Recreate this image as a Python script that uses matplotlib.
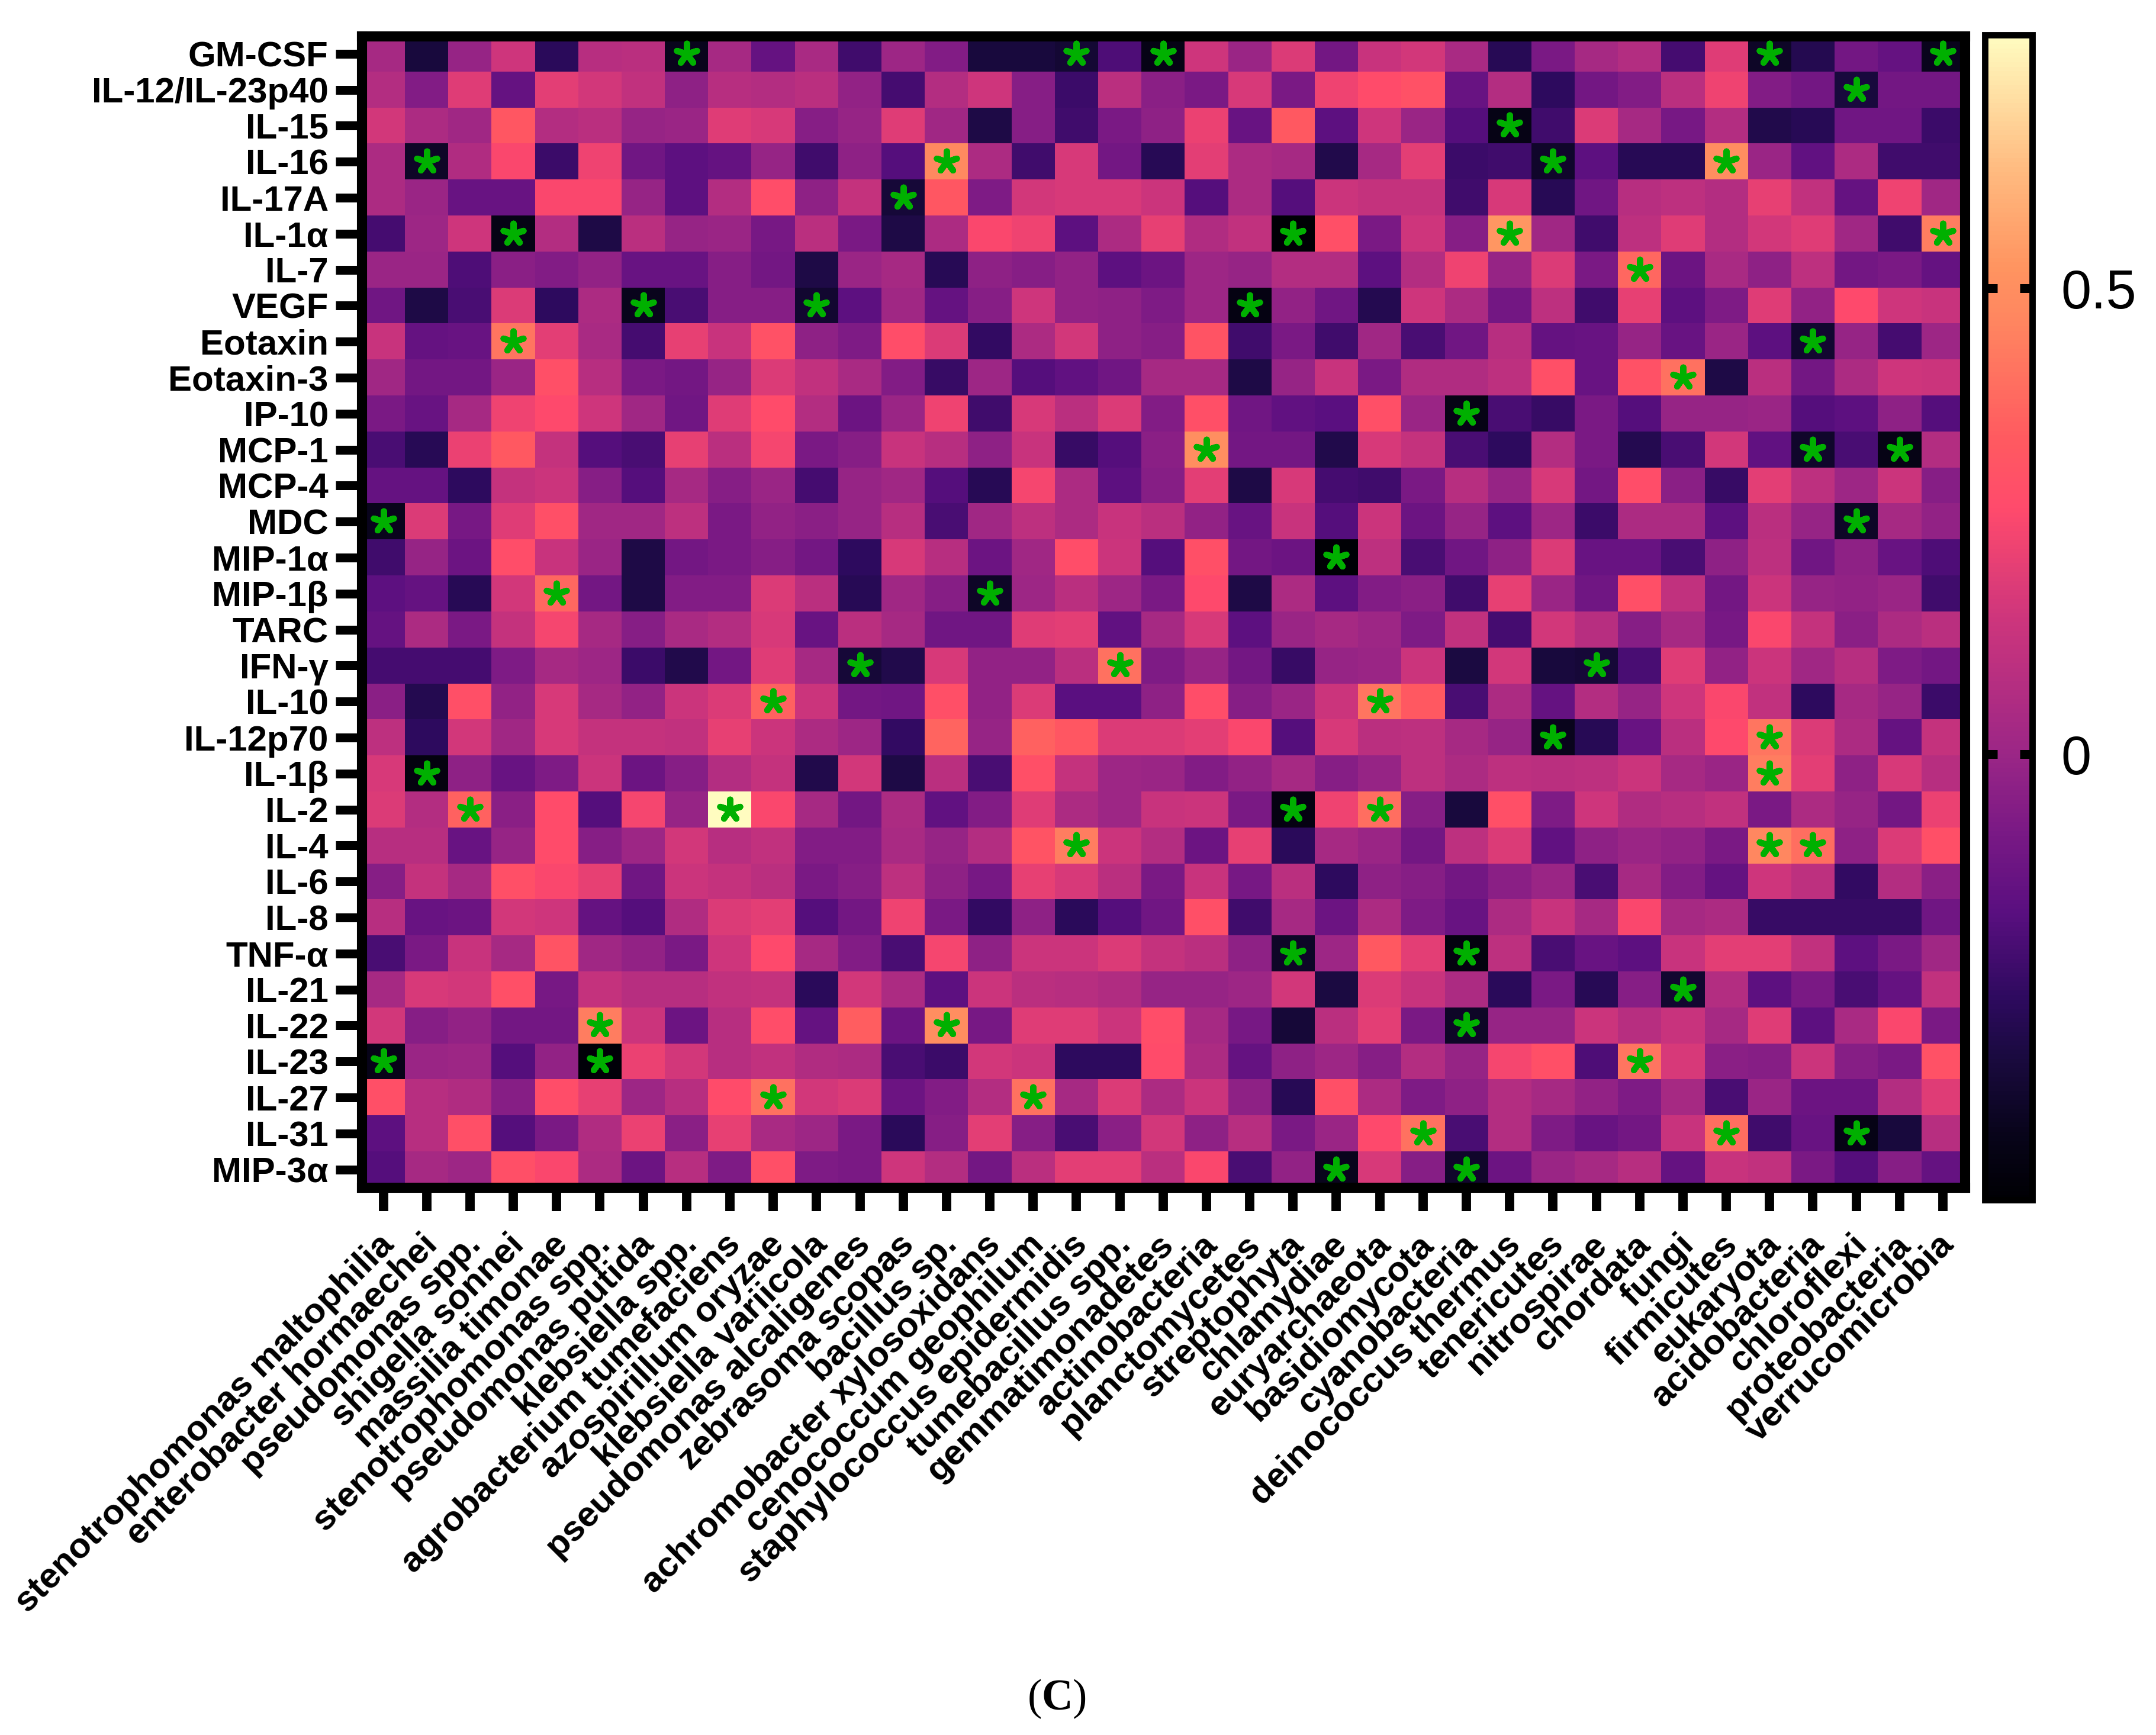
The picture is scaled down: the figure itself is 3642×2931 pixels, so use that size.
import numpy as np
import matplotlib
matplotlib.use("Agg")
import matplotlib.pyplot as plt
from matplotlib.colors import LinearSegmentedColormap
from matplotlib.transforms import ScaledTranslation

plt.rcParams['font.family'] = ['Liberation Sans', 'DejaVu Sans']
plt.rcParams['mathtext.fontset'] = 'custom'
plt.rcParams['mathtext.bf'] = 'Liberation Serif:bold'
plt.rcParams['mathtext.rm'] = 'Liberation Serif'

cytokines = ["GM-CSF", "IL-12/IL-23p40", "IL-15", "IL-16", "IL-17A", "IL-1α", "IL-7", "VEGF",
             "Eotaxin", "Eotaxin-3", "IP-10", "MCP-1", "MCP-4", "MDC", "MIP-1α", "MIP-1β",
             "TARC", "IFN-γ", "IL-10", "IL-12p70", "IL-1β", "IL-2", "IL-4", "IL-6",
             "IL-8", "TNF-α", "IL-21", "IL-22", "IL-23", "IL-27", "IL-31", "MIP-3α"]

taxa = ["stenotrophomonas maltophilia", "enterobacter hormaechei", "pseudomonas spp.", "shigella sonnei",
        "massilia timonae", "stenotrophomonas spp.", "pseudomonas putida", "klebsiella spp.",
        "agrobacterium tumefaciens", "azospirillum oryzae", "klebsiella variicola", "pseudomonas alcaligenes",
        "zebrasoma scopas", "bacillus sp.", "achromobacter xylosoxidans", "cenococcum geophilum",
        "staphylococcus epidermidis", "tumebacillus spp.", "gemmatimonadetes", "actinobacteria",
        "planctomycetes", "streptophyta", "chlamydiae", "euryarchaeota", "basidiomycota", "cyanobacteria",
        "deinococcus thermus", "tenericutes", "nitrospirae", "chordata", "fungi", "firmicutes",
        "eukaryota", "acidobacteria", "chloroflexi", "proteobacteria", "verrucomicrobia"]

# correlation values, one list per cytokine
gm_csf = [.03, -.33, -.01, .15, -.27, .08, .09, -.40, .03, -.14, .04, -.22, .01, -.06, -.33, -.33, -.35, -.19, -.42, .15, .0, .18, -.10, .13, .16, .04, -.28, -.08, .03, .07, -.21, .19, -.38, -.29, -.10, -.14, -.40]
il12_23 = [.07, -.06, .19, -.14, .20, .16, .11, -.03, .08, .07, .09, -.02, -.21, .07, .15, -.05, -.23, .09, -.04, -.08, .17, -.08, .23, .27, .30, -.13, .07, -.26, -.10, -.06, .09, .23, -.06, -.10, -.33, -.10, -.10]
il15 = [.16, .05, .02, .32, .07, .09, -.01, .0, .19, .17, -.05, -.01, .19, .02, -.31, -.05, -.22, -.08, -.03, .22, -.13, .33, -.16, .15, .0, -.18, -.42, -.22, .18, .03, -.09, .07, -.30, -.28, -.11, -.11, -.23]
il16 = [.05, -.38, .06, .25, -.23, .23, -.11, -.16, -.14, -.01, -.22, -.03, -.18, .48, .05, -.22, .17, -.10, -.28, .20, .05, .03, -.30, .03, .20, -.23, -.22, -.37, -.16, -.28, -.28, .50, .0, -.15, .05, -.22, -.22]
il17a = [.05, .0, -.13, -.13, .25, .25, -.01, -.16, .07, .28, -.03, .12, -.34, .32, -.07, .16, .17, .17, .14, -.18, .05, -.18, .14, .12, .12, -.22, .17, -.28, -.11, .08, .10, .07, .21, .11, -.14, .23, .02]
il1a = [-.21, .01, .15, -.42, .07, -.31, .09, -.01, .0, -.09, .09, -.08, -.31, .05, .25, .23, -.16, .05, .21, .06, .11, -.47, .29, -.08, .15, -.05, .53, .02, -.22, .10, .19, .07, .16, .19, .02, -.22, .44]
il7 = [.0, .0, -.19, -.04, -.06, -.02, -.13, -.13, -.05, -.10, -.31, .0, .03, -.28, -.03, -.05, -.02, -.16, -.12, .01, -.01, .07, .07, -.16, .07, .23, -.01, .18, -.08, .38, -.12, .04, -.03, .10, -.10, -.08, -.14]
vegf = [-.11, -.31, -.20, .18, -.26, .05, -.40, -.20, -.05, -.05, -.36, -.16, .02, -.14, -.05, .15, -.02, -.03, -.07, .01, -.43, -.02, -.11, -.29, .15, .05, -.10, .10, -.22, .21, -.16, -.07, .19, -.02, .26, .15, .13]
eotaxin = [.13, -.14, -.13, .42, .20, .04, -.21, .21, .13, .30, -.03, -.07, .28, .18, -.25, .05, .16, -.03, -.05, .31, -.22, -.08, -.22, .02, -.20, -.11, .08, -.14, -.13, -.01, -.13, .0, -.16, -.36, -.01, -.21, .01]
eotaxin3 = [.02, -.10, -.10, .0, .29, .08, -.08, -.10, -.01, .18, .11, .04, -.06, -.24, .01, -.18, -.15, -.11, .03, .03, -.31, -.01, .13, -.08, .06, .06, .10, .29, -.13, .30, .41, -.31, .09, -.10, .05, .15, .14]
ip10 = [-.08, -.13, .03, .23, .26, .15, .02, -.11, .19, .27, .07, -.12, .0, .23, -.22, .17, .09, .18, -.06, .29, -.11, -.15, -.17, .29, .0, -.42, -.20, -.24, -.08, -.18, -.01, -.01, .0, -.18, -.16, -.03, -.18]
mcp1 = [-.20, -.28, .22, .33, .12, -.18, -.20, .21, .09, .24, -.08, -.05, .13, .08, -.03, .13, -.24, -.18, -.04, .50, -.10, -.10, -.30, .17, .12, -.20, -.26, .07, -.08, -.29, -.20, .16, -.15, -.37, -.20, -.42, .07]
mcp4 = [-.14, -.14, -.26, .12, .14, -.05, -.18, .03, -.05, .0, -.21, -.01, .02, -.18, -.28, .24, .05, -.16, -.05, .20, -.31, .17, -.21, -.22, -.08, .08, -.01, .17, -.10, .28, -.04, -.24, .20, .10, .01, .14, -.05]
mdc = [-.40, .18, -.09, .19, .29, .02, .02, .10, -.08, -.02, -.04, -.01, .08, -.20, .02, .10, .05, .13, .09, -.02, -.13, .13, -.18, .14, -.12, -.01, -.16, .01, -.23, .05, .05, -.16, .09, -.01, -.38, .03, -.02]
mip1a = [-.22, -.01, -.12, .28, .13, .0, -.31, -.10, -.08, -.05, -.10, -.26, .17, .08, -.12, .02, .28, .14, -.18, .29, -.10, -.12, -.47, .10, -.20, -.11, -.03, .18, -.13, -.13, -.20, -.03, .10, -.11, -.03, -.13, -.19]
mip1b = [-.16, -.14, -.28, .16, .38, -.10, -.31, -.06, -.06, .18, .09, -.28, .02, -.05, -.38, .01, .09, .01, -.08, .26, -.31, .05, -.16, -.06, -.04, -.22, .21, .0, -.11, .29, .11, -.10, .14, -.01, -.02, .0, -.22]
tarc = [-.14, .05, -.08, .12, .24, .03, -.05, .04, .07, .17, -.13, .09, .03, -.11, -.11, .19, .20, -.15, .03, .17, -.16, .0, .03, .01, -.07, .11, -.21, .16, .08, -.05, .03, -.09, .25, .12, -.04, .05, .09]
ifn_g = [-.21, -.21, -.21, -.07, .03, .01, -.23, -.30, -.10, .19, .03, -.34, -.30, .17, -.02, -.02, .09, .41, -.07, -.01, -.10, -.24, -.01, .0, .14, -.32, .16, -.33, -.34, -.20, .19, -.02, .14, .02, .08, -.07, -.10]
il10 = [-.04, -.29, .29, -.02, .17, .03, -.02, .14, .18, .36, .14, -.10, -.11, .29, -.02, .18, -.17, -.17, -.03, .28, -.05, .0, .14, .42, .33, -.20, .05, -.14, .07, -.01, .15, .25, .11, -.26, .03, -.01, -.23]
il12p70 = [.10, -.26, .16, .02, .17, .12, .12, .11, .21, .14, .05, .01, -.25, .37, -.01, .36, .32, .18, .18, .20, .25, -.18, .17, .09, .10, .03, -.01, -.40, -.28, -.13, .09, .26, .42, .18, .05, -.14, .12]
il1b = [.17, -.44, -.03, -.13, -.07, .14, -.12, -.05, .07, .12, -.30, .16, -.31, .09, -.20, .29, .12, .01, .0, -.06, -.02, .03, -.05, -.01, .10, .05, .10, .09, .10, .14, .03, .0, .44, .20, -.03, .17, .08]
il2 = [.18, .07, .36, -.04, .27, -.18, .24, -.01, .77, .25, .03, -.10, .05, -.15, -.06, .19, .05, .01, .13, .14, -.08, -.43, .23, .40, -.05, -.33, .29, -.07, .15, .06, .08, .11, -.08, .05, -.01, -.10, .22]
il4 = [.08, .08, -.13, -.01, .27, -.05, .01, .16, .08, .11, -.06, -.06, .04, -.01, .07, .31, .44, .14, .07, -.12, .21, -.27, .03, .0, -.10, .10, .18, -.15, -.03, .0, -.02, -.08, .47, .40, -.03, .18, .29]
il6 = [-.05, .12, .03, .29, .25, .21, -.11, .14, .12, .09, -.08, -.05, .10, -.03, -.09, .21, .17, .09, -.08, .13, -.09, .09, -.26, -.03, -.05, -.10, -.04, .0, -.20, .03, -.06, -.14, .15, .10, -.25, .07, -.04]
il8 = [.08, -.13, -.12, .16, .15, -.14, -.18, .06, .18, .20, -.18, -.10, .23, -.08, -.25, -.03, -.27, -.18, -.11, .29, -.22, .03, -.12, .05, -.07, -.13, .05, .13, .03, .25, .03, .05, -.24, -.24, -.24, -.24, -.11]
tnf_a = [-.20, -.08, .13, .03, .31, .02, -.02, -.08, .15, .26, .03, -.06, -.20, .24, -.03, .14, .14, .18, .12, .09, -.03, -.38, .01, .33, .20, -.44, .10, -.20, -.13, -.16, .13, .20, .20, .11, -.16, -.08, .02]
il21 = [.03, .17, .16, .29, -.09, .12, .08, .08, .11, .12, -.27, .16, .05, -.16, .14, .09, .08, .06, -.01, -.01, .01, .16, -.32, .18, .13, .05, -.27, -.08, -.28, -.05, -.36, .07, -.16, -.08, -.20, -.14, .11]
il22 = [.16, -.05, -.02, -.10, -.10, .44, .14, -.12, .08, .28, -.14, .35, -.12, .50, -.09, .19, .19, .14, .28, .03, -.09, -.34, .09, .20, -.08, -.38, -.01, -.01, .14, .08, .13, .03, .19, -.16, .04, .25, -.08]
il23 = [-.41, .0, .01, -.18, -.02, -.46, .22, .16, .08, .11, .06, .05, -.20, -.23, .16, .14, -.26, -.26, .27, .05, -.14, -.03, .01, -.05, .07, -.01, .24, .29, -.19, .42, .17, -.04, -.05, .14, -.05, -.08, .30]
il27 = [.29, .08, .06, -.05, .28, .21, .01, .08, .27, .41, .16, .18, -.12, -.06, .07, .41, .03, .18, .05, .14, -.03, -.28, .29, .05, -.07, -.03, .07, .03, -.02, -.07, .03, -.20, .0, -.12, -.12, .07, .19]
il31 = [-.16, .08, .29, -.18, -.08, .06, .22, -.04, .21, .04, .01, -.08, -.27, -.05, .20, -.05, -.20, -.04, .16, -.03, .08, -.08, .0, .26, .41, -.20, .07, -.07, -.13, -.10, .13, .40, -.22, -.13, -.42, -.33, .08]
mip3a = [-.18, .03, .01, .29, .25, .05, -.12, .08, -.07, .29, -.07, -.08, .15, .07, -.10, .09, .20, .20, .09, .25, -.20, -.02, -.40, .17, -.05, -.37, -.12, .0, .03, .08, -.14, .13, .11, -.08, -.18, -.05, -.14]

# significant cells
star_rows = [0, 0, 0, 0, 0, 1, 2, 3, 3, 3, 3, 4, 5, 5, 5, 5, 6, 7, 7, 7, 8, 8, 9, 10, 11, 11, 11,
             13, 13, 14, 15, 15, 17, 17, 17, 18, 18, 19, 19, 20, 20, 21, 21, 21, 21, 22, 22, 22,
             25, 25, 26, 27, 27, 27, 28, 28, 28, 29, 29, 30, 30, 30, 31, 31]
star_cols = [7, 16, 18, 32, 36, 34, 26, 1, 13, 27, 31, 12, 3, 21, 26, 36, 29, 6, 10, 20, 3, 33, 30, 25, 19, 33, 35,
             0, 34, 22, 4, 14, 11, 17, 28, 9, 23, 27, 32, 1, 32, 2, 8, 21, 23, 16, 32, 33,
             21, 25, 30, 5, 13, 25, 0, 5, 29, 9, 15, 24, 31, 34, 22, 25]

cbar_ticks = [0, 0.5]
vmin = -0.478
vmax = 0.772

matrix = np.array([gm_csf, il12_23, il15, il16, il17a, il1a, il7, vegf, eotaxin, eotaxin3, ip10, mcp1, mcp4,
                   mdc, mip1a, mip1b, tarc, ifn_g, il10, il12p70, il1b, il2, il4, il6, il8, tnf_a, il21,
                   il22, il23, il27, il31, mip3a])

# magma-like map, stops taken from the colour bar of the figure
stops = [(-0.478, "#000004"), (-0.41, "#08041a"), (-0.325, "#1a0a40"), (-0.262, "#2e0a5f"),
         (-0.17, "#5a0f80"), (-0.078, "#7c1a85"), (0.0, "#9b2686"), (0.15, "#cf367c"),
         (0.264, "#ff4a6c"), (0.34, "#ff5a60"), (0.467, "#ff8660"), (0.524, "#ff9460"),
         (0.63, "#ffbb80"), (0.772, "#fffcc0")]
cmap = LinearSegmentedColormap.from_list("heat", [((v - vmin) / (vmax - vmin), c) for v, c in stops])

W, H = 3642, 2931
fig = plt.figure(figsize=(W / 300, H / 300), dpi=300)
ax = fig.add_axes([611 / W, 1 - 2006 / H, (3318.5 - 611) / W, (2006 - 60.5) / H])

im = ax.imshow(matrix, aspect='auto', cmap=cmap, vmin=vmin, vmax=vmax, interpolation='nearest')
ax.scatter(star_cols, star_rows, marker=(5, 2, 0), s=72, linewidths=2.5, color='#00b000', zorder=3)

ax.set_yticks(range(len(cytokines)))
ax.set_yticklabels(cytokines, fontsize=14.4, fontweight='bold')
ax.set_xticks(range(len(taxa)))
ax.set_xticklabels(taxa, fontsize=14.4, fontweight='bold', rotation=45, ha='right', rotation_mode='anchor')
ax.tick_params(axis='y', length=10.5, width=3.6, pad=3)
ax.tick_params(axis='x', length=9.5, width=3.8, pad=7)
# labels sit a little left of their ticks
shift = ScaledTranslation(-10 / 300, 0, fig.dpi_scale_trans)
for t in ax.get_xticklabels():
    t.set_transform(t.get_transform() + shift)
for s in ax.spines.values():
    s.set_linewidth(4.1)

cax = fig.add_axes([3353 / W, 1 - 2027 / H, 80 / W, (2027 - 59) / H])
cb = fig.colorbar(im, cax=cax)
cb.set_ticks(cbar_ticks)
cb.set_ticklabels(["0", "0.5"])
cb.outline.set_linewidth(2.6)
cax.tick_params(axis='y', which='major', direction='in', left=True, right=True, length=5, width=3.6,
                labelsize=22, pad=11.5)

fig.text(1785 / W, 1 - 2870 / H, r"($\mathbf{C}$)", fontsize=17.5, family='Liberation Serif', ha='center', va='center')

fig.savefig("out.png", dpi=300, facecolor='white')
